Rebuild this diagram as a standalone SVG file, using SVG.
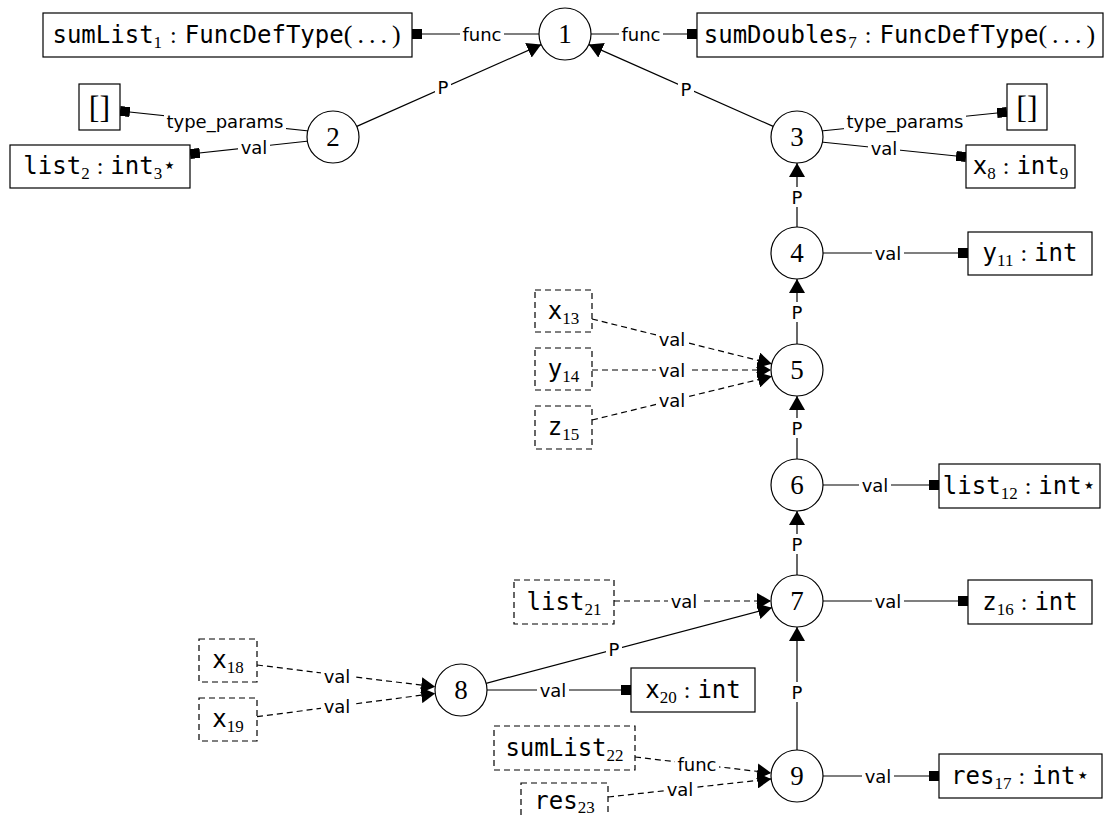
<svg xmlns="http://www.w3.org/2000/svg" width="1114" height="816" viewBox="0 0 1114 816">
<defs>
<style>
.n circle{fill:#fff;stroke:#000;stroke-width:1.2}
.n text{font-family:"Liberation Serif","DejaVu Serif",serif;font-size:27px;text-anchor:middle}
.b rect{fill:#fff;stroke:#000;stroke-width:1.2}
.d rect{fill:#fff;stroke:#000;stroke-width:1.2;stroke-dasharray:6 4}
.t{font-family:"DejaVu Sans Mono",monospace;font-size:24px;text-anchor:middle}
.s{font-family:"Liberation Serif",serif;font-size:17px}
.r{font-family:"Liberation Serif",serif}
.pr{font-family:"Liberation Serif",serif;font-size:26px;letter-spacing:5px}
.br{font-family:"Liberation Serif",serif;font-size:32px;text-anchor:middle}
.e line{stroke:#000;stroke-width:1.2;fill:none}
.e line.da{stroke-dasharray:6 4}
.p{marker-end:url(#ar)}
.q{marker-end:url(#sq)}
.lb{fill:#fff}
.l{font-family:"DejaVu Sans",sans-serif;font-size:18px;text-anchor:middle;dominant-baseline:central;fill:#000}
</style>
<marker id="ar" viewBox="0 0 14 16" refX="14" refY="8" markerWidth="14" markerHeight="16" markerUnits="userSpaceOnUse" orient="auto"><path d="M0,0 L14,8 L0,16 z" fill="#000"/></marker>
<marker id="sq" viewBox="0 0 10 10" refX="10" refY="5" markerWidth="10" markerHeight="10" markerUnits="userSpaceOnUse" orient="auto"><rect width="10" height="10" fill="#000"/></marker>
</defs>
<rect width="1114" height="816" fill="#fff"/>

<g id="edges" class="e">
<line class="q" x1="539" y1="34" x2="412" y2="34"/>
<line class="q" x1="591" y1="34" x2="697" y2="34"/>
<line class="p" x1="356.8" y1="126.4" x2="541.2" y2="44.6"/>
<line class="p" x1="773.2" y1="126.4" x2="588.8" y2="44.6"/>
<line class="q" x1="309" y1="131" x2="120" y2="111"/>
<line class="q" x1="309" y1="141" x2="190" y2="154"/>
<line class="q" x1="821" y1="131" x2="1007" y2="112"/>
<line class="q" x1="821" y1="142" x2="966" y2="157"/>
<line class="p" x1="797" y1="227" x2="797" y2="163"/>
<line class="q" x1="823" y1="253" x2="968" y2="253"/>
<line class="p" x1="797" y1="344" x2="797" y2="279"/>
<line class="p da" x1="592" y1="319" x2="771.8" y2="363.8"/>
<line class="p da" x1="592" y1="370" x2="771" y2="370"/>
<line class="p da" x1="592" y1="420" x2="771.8" y2="376.3"/>
<line class="p" x1="797" y1="459" x2="797" y2="396"/>
<line class="q" x1="823" y1="485" x2="939" y2="485"/>
<line class="p" x1="797" y1="575" x2="797" y2="511"/>
<line class="p da" x1="614" y1="601" x2="771" y2="601"/>
<line class="q" x1="823" y1="601" x2="968" y2="601"/>
<line class="p" x1="486.1" y1="683.3" x2="771.9" y2="607.7"/>
<line class="q" x1="487" y1="690" x2="631" y2="690"/>
<line class="p da" x1="257" y1="665" x2="435.2" y2="686.8"/>
<line class="p da" x1="257" y1="716.7" x2="435.2" y2="693.4"/>
<line class="p" x1="797" y1="750" x2="797" y2="627"/>
<line class="q" x1="823" y1="776" x2="939" y2="776"/>
<line class="p da" x1="635" y1="757" x2="771.2" y2="773"/>
<line class="p da" x1="608" y1="797" x2="771.2" y2="778.9"/>
<g id="labels">
<rect class="lb" x="460" y="24" width="44" height="20"/><text class="l" x="482" y="34">func</text>
<rect class="lb" x="619" y="24" width="44" height="20"/><text class="l" x="641" y="34">func</text>
<rect class="lb" x="435" y="77" width="16" height="20"/><text class="l" x="443" y="87">P</text>
<rect class="lb" x="678" y="79" width="16" height="20"/><text class="l" x="686" y="89">P</text>
<rect class="lb" x="164" y="111" width="122" height="22"/><text class="l" x="225" y="121">type_params</text>
<rect class="lb" x="238" y="137" width="32" height="20"/><text class="l" x="254" y="147">val</text>
<rect class="lb" x="844" y="111" width="122" height="22"/><text class="l" x="905" y="121">type_params</text>
<rect class="lb" x="868" y="138" width="32" height="20"/><text class="l" x="884" y="148">val</text>
<rect class="lb" x="789" y="187" width="16" height="20"/><text class="l" x="797" y="197">P</text>
<rect class="lb" x="872" y="243" width="32" height="20"/><text class="l" x="888" y="253">val</text>
<rect class="lb" x="789" y="302" width="16" height="20"/><text class="l" x="797" y="312">P</text>
<rect class="lb" x="656" y="329" width="32" height="20"/><text class="l" x="672" y="339">val</text>
<rect class="lb" x="656" y="360" width="32" height="20"/><text class="l" x="672" y="370">val</text>
<rect class="lb" x="656" y="390" width="32" height="20"/><text class="l" x="672" y="400">val</text>
<rect class="lb" x="789" y="418" width="16" height="20"/><text class="l" x="797" y="428">P</text>
<rect class="lb" x="859" y="475" width="32" height="20"/><text class="l" x="875" y="485">val</text>
<rect class="lb" x="789" y="534" width="16" height="20"/><text class="l" x="797" y="544">P</text>
<rect class="lb" x="668" y="591" width="32" height="20"/><text class="l" x="684" y="601">val</text>
<rect class="lb" x="872" y="591" width="32" height="20"/><text class="l" x="888" y="601">val</text>
<rect class="lb" x="606" y="639" width="16" height="20"/><text class="l" x="614" y="649">P</text>
<rect class="lb" x="537" y="680" width="32" height="20"/><text class="l" x="553" y="690">val</text>
<rect class="lb" x="321" y="666" width="32" height="20"/><text class="l" x="337" y="676">val</text>
<rect class="lb" x="321" y="696" width="32" height="20"/><text class="l" x="337" y="706">val</text>
<rect class="lb" x="789" y="682" width="16" height="20"/><text class="l" x="797" y="692">P</text>
<rect class="lb" x="862" y="766" width="32" height="20"/><text class="l" x="878" y="776">val</text>
<rect class="lb" x="675" y="754" width="44" height="20"/><text class="l" x="697" y="764">func</text>
<rect class="lb" x="664" y="779" width="32" height="20"/><text class="l" x="680" y="789">val</text>
</g>
</g>

<g id="n1" class="n"><circle cx="565" cy="34" r="26"/><text x="565" y="43">1</text></g>
<g id="n2" class="n"><circle cx="333" cy="137" r="26"/><text x="333" y="146">2</text></g>
<g id="n3" class="n"><circle cx="797" cy="137" r="26"/><text x="797" y="146">3</text></g>
<g id="n4" class="n"><circle cx="797" cy="253" r="26"/><text x="797" y="262">4</text></g>
<g id="n5" class="n"><circle cx="797" cy="370" r="26"/><text x="797" y="379">5</text></g>
<g id="n6" class="n"><circle cx="797" cy="485" r="26"/><text x="797" y="494">6</text></g>
<g id="n7" class="n"><circle cx="797" cy="601" r="26"/><text x="797" y="610">7</text></g>
<g id="n8" class="n"><circle cx="461" cy="690" r="26"/><text x="461" y="699">8</text></g>
<g id="n9" class="n"><circle cx="797" cy="776" r="26"/><text x="797" y="785">9</text></g>

<g id="sumList1" class="b"><rect x="43" y="13" width="369" height="44"/><text class="t" x="229" y="43">sumList<tspan class="s" dy="5">1</tspan><tspan class="r" dx="8" dy="-5">:</tspan><tspan dx="8">FuncDefType</tspan><tspan class="pr">(...)</tspan></text></g>
<g id="sumDoubles7" class="b"><rect x="697" y="13" width="406" height="44"/><text class="t" x="902" y="43">sumDoubles<tspan class="s" dy="5">7</tspan><tspan class="r" dx="8" dy="-5">:</tspan><tspan dx="8">FuncDefType</tspan><tspan class="pr">(...)</tspan></text></g>
<g id="emptyL" class="b"><rect x="79" y="84" width="41" height="46"/><text class="br" x="99.5" y="118">[]</text></g>
<g id="list2" class="b"><rect x="10" y="145" width="180" height="43"/><text class="t" x="100" y="174">list<tspan class="s" dy="5">2</tspan><tspan class="r" dx="7" dy="-5">:</tspan><tspan dx="7">int</tspan><tspan class="s" dy="5">3</tspan><tspan dy="-5">⋆</tspan></text></g>
<g id="emptyR" class="b"><rect x="1007" y="84" width="40" height="46"/><text class="br" x="1027" y="118">[]</text></g>
<g id="x8" class="b"><rect x="966" y="145" width="109" height="43"/><text class="t" x="1020.5" y="174">x<tspan class="s" dy="5">8</tspan><tspan class="r" dx="7" dy="-5">:</tspan><tspan dx="7">int</tspan><tspan class="s" dy="5">9</tspan></text></g>
<g id="y11" class="b"><rect x="968" y="232" width="124" height="43"/><text class="t" x="1030" y="261">y<tspan class="s" dy="5">11</tspan><tspan class="r" dx="7" dy="-5">:</tspan><tspan dx="7">int</tspan></text></g>
<g id="list12" class="b"><rect x="939" y="464" width="161" height="44"/><text class="t" x="1019.5" y="494">list<tspan class="s" dy="5">12</tspan><tspan class="r" dx="7" dy="-5">:</tspan><tspan dx="7">int⋆</tspan></text></g>
<g id="z16" class="b"><rect x="968" y="580" width="124" height="44"/><text class="t" x="1030" y="610">z<tspan class="s" dy="5">16</tspan><tspan class="r" dx="7" dy="-5">:</tspan><tspan dx="7">int</tspan></text></g>
<g id="x20" class="b"><rect x="631" y="668" width="124" height="44"/><text class="t" x="693" y="698">x<tspan class="s" dy="5">20</tspan><tspan class="r" dx="7" dy="-5">:</tspan><tspan dx="7">int</tspan></text></g>
<g id="res17" class="b"><rect x="939" y="754" width="163" height="44"/><text class="t" x="1020.5" y="784">res<tspan class="s" dy="5">17</tspan><tspan class="r" dx="7" dy="-5">:</tspan><tspan dx="7">int⋆</tspan></text></g>

<g id="x13" class="d"><rect x="535" y="290" width="57" height="42"/><text class="t" x="563.5" y="319">x<tspan class="s" dy="5">13</tspan></text></g>
<g id="y14" class="d"><rect x="535" y="348" width="57" height="42"/><text class="t" x="563.5" y="377">y<tspan class="s" dy="5">14</tspan></text></g>
<g id="z15" class="d"><rect x="535" y="406" width="57" height="43"/><text class="t" x="563.5" y="435">z<tspan class="s" dy="5">15</tspan></text></g>
<g id="list21" class="d"><rect x="514" y="580" width="100" height="44"/><text class="t" x="564" y="610">list<tspan class="s" dy="5">21</tspan></text></g>
<g id="x18" class="d"><rect x="199" y="639" width="58" height="43"/><text class="t" x="228" y="668">x<tspan class="s" dy="5">18</tspan></text></g>
<g id="x19" class="d"><rect x="199" y="698" width="58" height="43"/><text class="t" x="228" y="727">x<tspan class="s" dy="5">19</tspan></text></g>
<g id="sumList22" class="d"><rect x="494" y="726" width="141" height="44"/><text class="t" x="564.5" y="756">sumList<tspan class="s" dy="5">22</tspan></text></g>
<g id="res23" class="d"><rect x="521" y="783" width="87" height="44"/><text class="t" x="564.5" y="809">res<tspan class="s" dy="4">23</tspan></text></g>
</svg>
